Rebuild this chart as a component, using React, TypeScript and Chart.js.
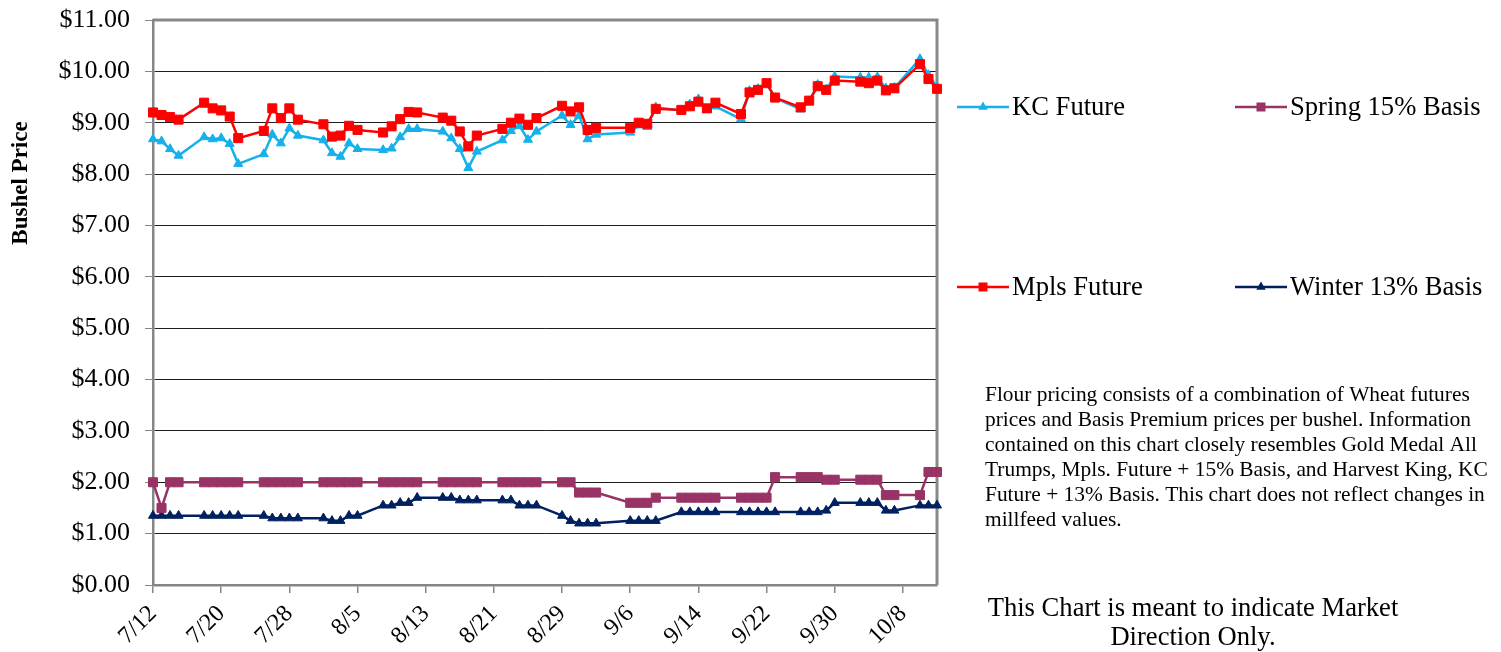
import React, { useEffect, useRef } from "react";
import { Chart, registerables } from "chart.js";

Chart.register(...registerables);

const YEAR = 2011;
const axisStart = "7/12";
const axisEnd = "10/12";

const tickLabels = ["7/12", "7/20", "7/28", "8/5", "8/13", "8/21", "8/29", "9/6", "9/14", "9/22", "9/30", "10/8"];

const dates = [
  "7/12", "7/13", "7/14", "7/15",
  "7/18", "7/19", "7/20", "7/21", "7/22",
  "7/25", "7/26", "7/27", "7/28", "7/29",
  "8/1", "8/2", "8/3", "8/4", "8/5",
  "8/8", "8/9", "8/10", "8/11", "8/12",
  "8/15", "8/16", "8/17", "8/18", "8/19",
  "8/22", "8/23", "8/24", "8/25", "8/26",
  "8/29", "8/30", "8/31", "9/1", "9/2",
  "9/6", "9/7", "9/8", "9/9",
  "9/12", "9/13", "9/14", "9/15", "9/16",
  "9/19", "9/20", "9/21", "9/22", "9/23",
  "9/26", "9/27", "9/28", "9/29", "9/30",
  "10/3", "10/4", "10/5", "10/6", "10/7",
  "10/10", "10/11", "10/12",
];

const kcFuture = [
  8.68, 8.64, 8.49, 8.36,
  8.72, 8.68, 8.70, 8.59, 8.20,
  8.39, 8.77, 8.60, 8.89, 8.75,
  8.66, 8.41, 8.34, 8.60, 8.49,
  8.47, 8.50, 8.72, 8.88, 8.88,
  8.83, 8.70, 8.49, 8.12, 8.44,
  8.66, 8.84, 8.94, 8.67, 8.83,
  9.14, 8.96, 9.14, 8.68, 8.77,
  8.81, 8.95, 8.92, 9.30,
  9.24, 9.36, 9.46, 9.25, 9.32,
  9.07, 9.62, 9.66, 9.76, 9.48,
  9.26, 9.42, 9.74, 9.65, 9.90,
  9.88, 9.88, 9.89, 9.67, 9.68,
  10.24, 9.93, 9.70,
];

const mplsFuture = [
  9.20, 9.15, 9.11, 9.06,
  9.39, 9.28, 9.24, 9.12, 8.70,
  8.84, 9.28, 9.09, 9.28, 9.06,
  8.97, 8.73, 8.75, 8.94, 8.86,
  8.81, 8.93, 9.07, 9.21, 9.20,
  9.10, 9.04, 8.83, 8.54, 8.75,
  8.88, 9.00, 9.08, 8.96, 9.09,
  9.33, 9.22, 9.30, 8.86, 8.90,
  8.90, 9.00, 8.98, 9.27,
  9.25, 9.32, 9.41, 9.28, 9.39,
  9.17, 9.59, 9.64, 9.77, 9.49,
  9.30, 9.43, 9.71, 9.64, 9.82,
  9.80, 9.77, 9.82, 9.63, 9.67,
  10.14, 9.85, 9.66,
];

const springBasis = [
  2.00, 1.50, 2.00, 2.00,
  2.00, 2.00, 2.00, 2.00, 2.00,
  2.00, 2.00, 2.00, 2.00, 2.00,
  2.00, 2.00, 2.00, 2.00, 2.00,
  2.00, 2.00, 2.00, 2.00, 2.00,
  2.00, 2.00, 2.00, 2.00, 2.00,
  2.00, 2.00, 2.00, 2.00, 2.00,
  2.00, 2.00, 1.80, 1.80, 1.80,
  1.60, 1.60, 1.60, 1.70,
  1.70, 1.70, 1.70, 1.70, 1.70,
  1.70, 1.70, 1.70, 1.70, 2.10,
  2.10, 2.10, 2.10, 2.05, 2.05,
  2.05, 2.05, 2.05, 1.75, 1.75,
  1.75, 2.20, 2.20,
];

const winterBasis = [
  1.35, 1.35, 1.35, 1.35,
  1.35, 1.35, 1.35, 1.35, 1.35,
  1.35, 1.30, 1.30, 1.30, 1.30,
  1.30, 1.25, 1.25, 1.35, 1.35,
  1.55, 1.55, 1.60, 1.60, 1.70,
  1.70, 1.70, 1.65, 1.65, 1.65,
  1.65, 1.65, 1.55, 1.55, 1.55,
  1.35, 1.25, 1.20, 1.20, 1.20,
  1.25, 1.25, 1.25, 1.25,
  1.42, 1.42, 1.42, 1.42, 1.42,
  1.42, 1.42, 1.42, 1.42, 1.42,
  1.42, 1.42, 1.42, 1.45, 1.60,
  1.60, 1.60, 1.60, 1.45, 1.45,
  1.55, 1.55, 1.55,
];

const seriesNames = ["KC Future", "Mpls Future", "Spring 15% Basis", "Winter 13% Basis"];
const seriesColors = ["#16B0EA", "#FF0000", "#993366", "#002060"];

const noteLines = [
  "Flour pricing consists of a combination of Wheat futures",
  "prices and Basis Premium prices per bushel. Information",
  "contained on this chart closely resembles Gold Medal All",
  "Trumps, Mpls. Future + 15% Basis, and Harvest King, KC",
  "Future + 13% Basis. This chart does not reflect changes in",
  "millfeed values.",
];
const directionLines = ["This Chart is meant to indicate Market", "Direction Only."];
const yTitle = "Bushel Price";

const SERIF = '"Liberation Serif", "Times New Roman", serif';

function dayOf(s: string): number {
  const [m, d] = s.split("/").map(Number);
  const [m0, d0] = axisStart.split("/").map(Number);
  return Math.round((Date.UTC(YEAR, m - 1, d) - Date.UTC(YEAR, m0 - 1, d0)) / 86400000);
}

function drawMarker(ctx: CanvasRenderingContext2D, kind: string, x: number, y: number, color: string) {
  ctx.fillStyle = color;
  ctx.beginPath();
  if (kind === "triangle") {
    const r = 5.5;
    ctx.moveTo(x, y - r);
    ctx.lineTo(x + r * 0.866, y + r * 0.5);
    ctx.lineTo(x - r * 0.866, y + r * 0.5);
    ctx.closePath();
  } else {
    ctx.rect(x - 4.5, y - 4.5, 9, 9);
  }
  ctx.fill();
}

const decorPlugin = {
  id: "decor",
  beforeDatasetsDraw(chart: any) {
    const { ctx, chartArea } = chart;
    ctx.save();
    ctx.strokeStyle = "#888888";
    ctx.lineWidth = 3;
    ctx.beginPath();
    ctx.moveTo(chartArea.left, chartArea.top);
    ctx.lineTo(chartArea.right, chartArea.top);
    ctx.lineTo(chartArea.right, chartArea.bottom);
    ctx.stroke();
    ctx.restore();
  },
  afterDraw(chart: any) {
    const ctx: CanvasRenderingContext2D = chart.ctx;
    ctx.save();
    ctx.save();
    ctx.translate(21, 183);
    ctx.rotate(-Math.PI / 2);
    ctx.font = `bold 23px ${SERIF}`;
    ctx.fillStyle = "#000";
    ctx.textAlign = "center";
    ctx.textBaseline = "middle";
    ctx.fillText(yTitle, 0, 0);
    ctx.restore();

    const legendItems = [
      { i: 0, x: 957, y: 107, kind: "triangle" },
      { i: 2, x: 1235, y: 107, kind: "rect" },
      { i: 1, x: 957, y: 287, kind: "rect" },
      { i: 3, x: 1235, y: 287, kind: "triangle" },
    ];
    ctx.font = `26.6px ${SERIF}`;
    ctx.textBaseline = "middle";
    ctx.textAlign = "left";
    for (const it of legendItems) {
      const c = seriesColors[it.i];
      ctx.strokeStyle = c;
      ctx.lineWidth = 2.5;
      ctx.beginPath();
      ctx.moveTo(it.x, it.y);
      ctx.lineTo(it.x + 52, it.y);
      ctx.stroke();
      drawMarker(ctx, it.kind, it.x + 26, it.y, c);
      ctx.fillStyle = "#000";
      ctx.fillText(seriesNames[it.i], it.x + 55, it.y + 1);
    }

    ctx.font = `21.4px ${SERIF}`;
    ctx.fillStyle = "#000";
    ctx.textAlign = "left";
    noteLines.forEach((l, k) => ctx.fillText(l, 985, 395 + k * 25));

    ctx.font = `26.6px ${SERIF}`;
    ctx.textAlign = "center";
    directionLines.forEach((l, k) => ctx.fillText(l, 1193, 609 + k * 29));
    ctx.restore();
  },
};

export default function App() {
  const ref = useRef<HTMLCanvasElement | null>(null);

  useEffect(() => {
    if (!ref.current) return;
    const styles = [
      { pointStyle: "triangle", radius: 5.2, order: 2 },
      { pointStyle: "rect", radius: 6.4, order: 1 },
      { pointStyle: "rect", radius: 6.4, order: 3 },
      { pointStyle: "triangle", radius: 5.2, order: 4 },
    ];
    const values = [kcFuture, mplsFuture, springBasis, winterBasis];
    const tickMap: Record<number, string> = {};
    tickLabels.forEach((t) => (tickMap[dayOf(t)] = t));

    const chart = new Chart(ref.current, {
      type: "line",
      data: {
        datasets: values.map((vals, i) => ({
          label: seriesNames[i],
          data: dates.map((d, k) => ({ x: dayOf(d), y: vals[k] })),
          borderColor: seriesColors[i],
          backgroundColor: seriesColors[i],
          pointBackgroundColor: seriesColors[i],
          pointBorderColor: seriesColors[i],
          pointBorderWidth: 1,
          pointStyle: styles[i].pointStyle as any,
          pointRadius: styles[i].radius,
          borderWidth: 2.5,
          tension: 0,
          order: styles[i].order,
          clip: false as any,
        })),
      },
      options: {
        responsive: false,
        animation: false,
        devicePixelRatio: 1,
        layout: { padding: { top: 20, right: 564, left: 0, bottom: 0 } },
        plugins: { legend: { display: false }, tooltip: { enabled: false } },
        scales: {
          x: {
            type: "linear",
            min: 0,
            max: dayOf(axisEnd),
            afterBuildTicks: (s: any) => {
              s.ticks = tickLabels.map((t) => ({ value: dayOf(t) }));
            },
            afterFit: (s: any) => {
              s.height = 67;
            },
            ticks: {
              autoSkip: false,
              minRotation: 45,
              maxRotation: 45,
              padding: 7,
              color: "#000",
              font: { family: SERIF, size: 24 },
              callback: (v: any) => tickMap[Math.round(Number(v))] ?? "",
            },
            grid: { drawOnChartArea: false, tickLength: 8, color: "#868686", lineWidth: 1.5 },
            border: { display: true, color: "#868686", width: 2.5 },
          },
          y: {
            min: 0,
            max: 11,
            afterFit: (s: any) => {
              s.width = 153;
              s.paddingTop = 0;
              s.paddingBottom = 0;
            },
            ticks: {
              stepSize: 1,
              padding: 15,
              color: "#000",
              font: { family: SERIF, size: 26 },
              callback: (v: any) => "$" + Number(v).toFixed(2),
            },
            grid: {
              color: (c: any) => (c.tick && (c.tick.value === 0 || c.tick.value === 11) ? "rgba(0,0,0,0)" : "#1e1e1e"),
              tickColor: "#868686",
              tickLength: 8,
              lineWidth: 1,
            },
            border: { display: true, color: "#868686", width: 2.5 },
          },
        },
      },
      plugins: [decorPlugin],
    });
    return () => chart.destroy();
  }, []);

  return (
    <div style={{ position: "fixed", left: 0, top: 0, width: 1501, height: 652, background: "#fff" }}>
      <canvas ref={ref} width={1501} height={652} style={{ display: "block", width: 1501, height: 652 }} />
    </div>
  );
}
